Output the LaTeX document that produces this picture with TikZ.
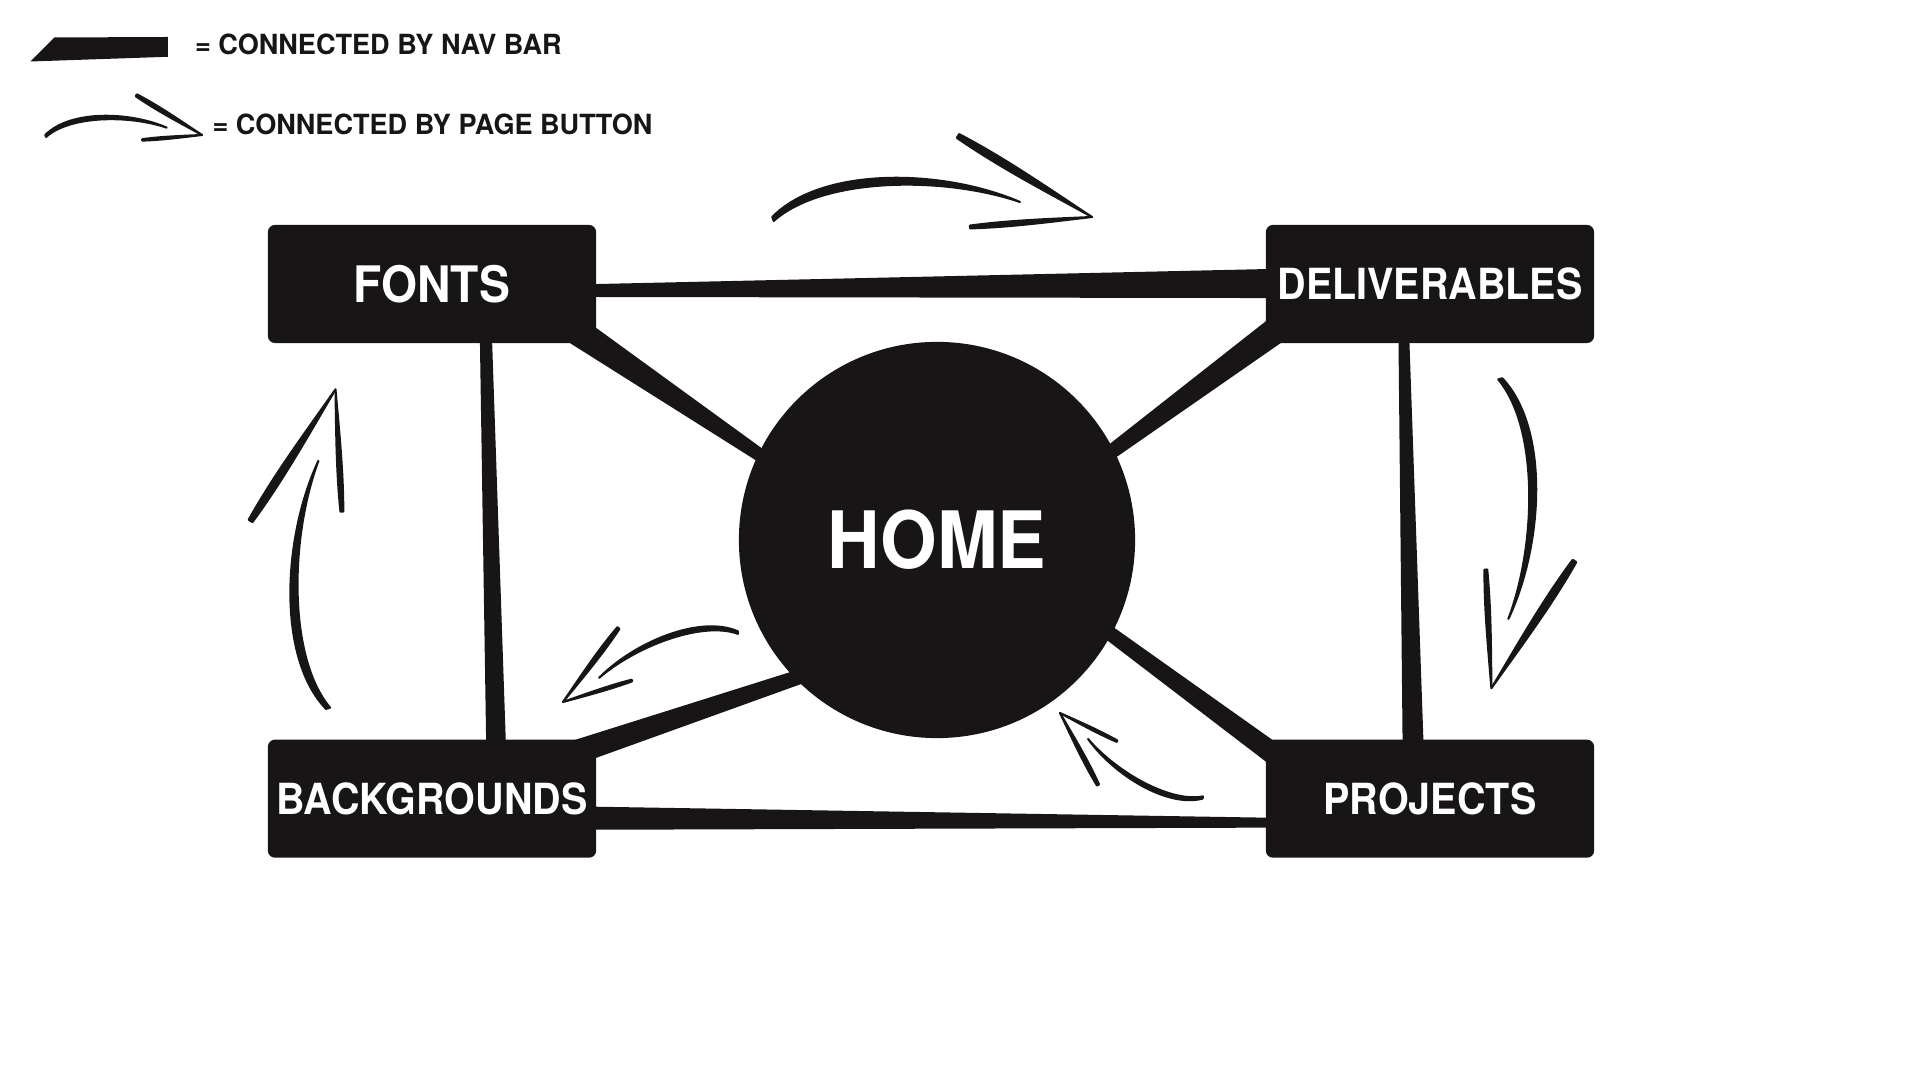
\documentclass[tikz,border=0pt]{standalone}
\usepackage{fontspec}
\newfontfamily\labelfont{TeX Gyre Heros}[FakeStretch=0.92]
\newfontfamily\legendfont{TeX Gyre Heros}[FakeStretch=0.975]
\usetikzlibrary{positioning, calc, backgrounds}
\definecolor{ink}{HTML}{171515}

%% tapered nav bar: start, end, half width at start, half width at end
\newcommand{\navbar}[4]{%
  \fill[ink] ($#1!#3!90:#2$) -- ($#2!#4!-90:#1$) -- ($#2!#4!90:#1$) -- ($#1!#3!-90:#2$) -- cycle;}

\begin{document}
\begin{tikzpicture}[
    x=0.01cm, y=-0.01cm,
    navbox/.style={rectangle, rounded corners=0.7mm, fill=ink, text=white, inner sep=0pt,
      minimum width=32.8mm, minimum height=11.8mm, font=\labelfont\bfseries\fontsize{12.2}{12}\selectfont},
    bigbox/.style={navbox, font=\labelfont\bfseries\fontsize{14.3}{14}\selectfont},
    homebox/.style={circle, fill=ink, text=white, inner sep=0pt, minimum size=39.6mm,
      font=\labelfont\bfseries\fontsize{22.5}{22}\selectfont},
    legend/.style={anchor=west, inner sep=0pt, text=ink, font=\legendfont\bfseries\fontsize{7.9}{8}\selectfont},
    brush/.style={fill=ink, draw=ink, line width=0.6pt, line join=round},
    pagearrow/.pic={
      \filldraw[brush] (-319.7,0) .. controls (-270,-50.5) and (-150,-48.5) .. (-72,-15)
        .. controls (-150,-41.5) and (-270,-39.5) .. (-318.3,4) -- cycle;
      \filldraw[brush] (-132.9,-82.9) .. controls (-86.5,-58.7) and (-43.7,-28.7) .. (0,0)
        .. controls (-45.7,-25.3) and (-92.1,-49.3) .. (-135.1,-79.1) -- cycle;
      \filldraw[brush] (-122.1,8.6) .. controls (-81.6,3.2) and (-40.8,1.9) .. (0,0)
        .. controls (-40.6,4.7) and (-81,10.2) .. (-121.9,11.4) -- cycle;
    }
  ]
  \useasboundingbox (0,0) rectangle (1920,1080);

%% legend
  \fill[ink] (30.5,61.5) -- (54.4,37.5) -- (167.9,37) -- (167.9,56.8) -- cycle;
  \node[legend] (navtext) at (194.3,44.8) {= CONNECTED BY NAV BAR};
  \pic (legendarrow) [scale=0.49] at (202,135) {pagearrow};
  \node[legend] (buttontext) at (211.8,124) {= CONNECTED BY PAGE BUTTON};

%% pages
  \node[homebox] (home) at (937,540) {HOME};
  \node[bigbox] (fonts) at (432,284) {FONTS};
  \node[navbox, right=66.8mm of fonts] (deliv) {DELIVERABLES};
  \node[navbox, below=39.5mm of fonts] (bg) {BACKGROUNDS};
  \node[navbox, below=39.5mm of deliv] (proj) {PROJECTS};

%% nav bars, drawn under the pages
  \begin{scope}[on background layer]
    \navbar{([shift={(-36,6.9)}]fonts.east)}{([shift={(36,-0.8)}]deliv.west)}{0.605mm}{1.49mm}
    \navbar{([shift={(-30.7,-20)}]fonts.south east)}{([shift={(-133.8,-55.6)}]home.center)}{1.43mm}{0.49mm}
    \navbar{([shift={(29.9,-27.7)}]deliv.south west)}{([shift={(137.1,-60.6)}]home.center)}{1.4mm}{0.585mm}
    \navbar{([shift={(35.3,34.8)}]proj.north west)}{([shift={(134.7,65.3)}]home.center)}{1.14mm}{0.63mm}
    \navbar{([shift={(-40.3,19.9)}]bg.north east)}{([shift={(-89.4,120.6)}]home.center)}{1.25mm}{0.63mm}
    \navbar{([shift={(-36,19.3)}]bg.east)}{([shift={(36,24.2)}]proj.west)}{1.185mm}{0.465mm}
    \navbar{([shift={(53.5,-23)}]fonts.south)}{([shift={(64.7,32)}]bg.north)}{0.59mm}{1.01mm}
    \navbar{([shift={(-26.5,-23)}]deliv.south)}{([shift={(-16.3,32)}]proj.north)}{0.52mm}{1.08mm}
  \end{scope}

%% page buttons
  \pic (toparrow) at (1092,217) {pagearrow};
  \pic (leftarrow) [rotate=88.3] at (335.5,389.4) {pagearrow};
  \pic (rightarrow) [rotate=-92, scale=0.97] at (1491.4,688.2) {pagearrow};
  \pic (projarrow) [rotate=149, scale=0.52] at (1060,713) {pagearrow};
  \pic (bgarrow) [rotate=-158, yscale=-1, scale=0.59] at (563,702) {pagearrow};

\end{tikzpicture}
\end{document}
